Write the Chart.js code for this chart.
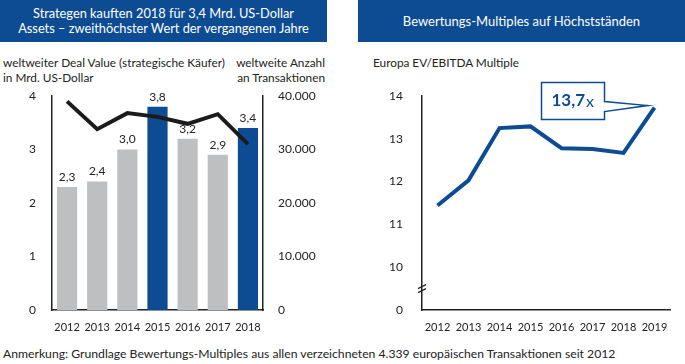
<!DOCTYPE html>
<html>
<head>
<meta charset="utf-8">
<script src="https://cdn.jsdelivr.net/npm/chart.js@4.4.1/dist/chart.umd.min.js"></script>
<style>
  body { margin: 0; background: #fff; font-family: 'Lato', 'Open Sans', sans-serif; color: #222; }
  #page { position: relative; width: 685px; height: 364px; overflow: hidden; }
  .head { position: absolute; top: 0; height: 42px; background: #0d4c93; color: #fff;
          font-size: 12.8px; line-height: 15px; text-align: center; display: flex;
          align-items: center; justify-content: center; }
  .txt { position: absolute; font-size: 11.8px; line-height: 15px; color: #222; white-space: nowrap; }
  .box { position: absolute; }
</style>
</head>
<body>
<div id="page">
  <div class="head" style="left:0;width:327px;">Strategen kauften 2018 für 3,4 Mrd. US-Dollar<br>Assets – zweithöchster Wert der vergangenen Jahre</div>
  <div class="head" style="left:358px;width:327px;font-size:13px;">Bewertungs-Multiples auf Höchstständen</div>

  <div class="txt" style="left:3px;top:55px;">weltweiter Deal Value (strategische Käufer)<br>in Mrd. US-Dollar</div>
  <div class="txt" style="right:360px;top:55px;text-align:right;">weltweite Anzahl<br>an Transaktionen</div>
  <div class="txt" style="left:373px;top:55px;">Europa EV/EBITDA Multiple</div>

  <div class="box" style="left:0;top:86px;width:340px;height:250px;"><canvas id="left"></canvas></div>
  <div class="box" style="left:345px;top:76px;width:340px;height:260px;"><canvas id="right"></canvas></div>

  <div class="txt" style="left:3px;top:346px;font-size:12.2px;">Anmerkung: Grundlage Bewertungs-Multiples aus allen verzeichneten 4.339 europäischen Transaktionen seit 2012</div>
</div>

<script>
// linke Grafik
var years = ['2012', '2013', '2014', '2015', '2016', '2017', '2018'];
var dealValue = [2.3, 2.4, 3.0, 3.8, 3.2, 2.9, 3.4];
var highlight = [false, false, false, true, false, false, true];
var deals = [39000, 33800, 36800, 36100, 34800, 36600, 31000];

// rechte Grafik
var multipleYears = ['2012', '2013', '2014', '2015', '2016', '2017', '2018', '2019'];
var multiples = [11.44, 12.03, 13.25, 13.29, 12.78, 12.76, 12.67, 13.73];
var calloutText = '13,7';

var BLUE = '#0d4c93';
var GREY = '#bebfc1';
var INK = '#222';
var tickFont = { family: 'Lato', size: 12 };
var yearFont = { family: 'Lato', size: 11 };

Chart.defaults.font.family = 'Lato';
Chart.defaults.color = INK;

// feste Achsenbreite, Abstand oben fest (sonst addiert Chart.js das Tick-Padding)
function fixWidth(w, top) {
  return function(scale) { scale.width = w; scale.paddingTop = top; scale.paddingBottom = 0; };
}
function fixHeight(h) { return function(scale) { scale.height = h; }; }

var barLabels = {
  id: 'barLabels',
  afterDatasetsDraw: function(chart) {
    var ctx = chart.ctx;
    var meta = chart.getDatasetMeta(0);
    ctx.save();
    ctx.font = '12px Lato';
    ctx.fillStyle = INK;
    ctx.textAlign = 'center';
    ctx.textBaseline = 'bottom';
    meta.data.forEach(function(bar, i) {
      ctx.fillText(dealValue[i].toFixed(1).replace('.', ','), bar.x, bar.y - 4);
    });
    ctx.restore();
  }
};

new Chart(document.getElementById('left'), {
  data: {
    labels: years,
    datasets: [{
      type: 'bar',
      data: dealValue,
      backgroundColor: highlight.map(function(h) { return h ? BLUE : GREY; }),
      barPercentage: 0.67,
      categoryPercentage: 1,
      yAxisID: 'y',
      order: 2
    }, {
      type: 'line',
      data: deals,
      borderColor: '#1b1b1b',
      borderWidth: 4,
      pointRadius: 0,
      tension: 0,
      yAxisID: 'y2',
      order: 1
    }]
  },
  options: {
    responsive: true,
    maintainAspectRatio: false,
    animation: false,
    layout: { padding: 0 },
    plugins: { legend: { display: false }, tooltip: { enabled: false } },
    scales: {
      x: {
        grid: { display: false },
        border: { color: INK, width: 1.5 },
        ticks: { font: yearFont, padding: 3, maxRotation: 0, autoSkip: false },
        afterFit: fixHeight(26)
      },
      y: {
        position: 'left', min: 0, max: 4,
        grid: { display: false },
        border: { color: INK, width: 1.5 },
        ticks: { stepSize: 1, font: tickFont, padding: 8 },
        afterFit: fixWidth(52, 10)
      },
      y2: {
        position: 'right', min: 0, max: 40000,
        grid: { display: false },
        border: { color: INK, width: 1.5 },
        ticks: {
          stepSize: 10000, font: tickFont, padding: 7,
          callback: function(v) { return v.toString().replace(/\B(?=(\d{3})+(?!\d))/g, '.'); }
        },
        afterFit: fixWidth(77, 10)
      }
    }
  },
  plugins: [barLabels]
});

var callout = {
  id: 'callout',
  afterDatasetsDraw: function(chart) {
    var ctx = chart.ctx;
    var meta = chart.getDatasetMeta(0);
    var last = meta.data[meta.data.length - 1];
    var px = last.x, py = last.y;
    var l = px - 113, r = px - 50, t = py - 25, b = py + 12;
    ctx.save();
    ctx.strokeStyle = BLUE;
    ctx.lineWidth = 1.5;
    ctx.fillStyle = '#fff';
    ctx.beginPath();
    ctx.moveTo(l, t);
    ctx.lineTo(r, t);
    ctx.lineTo(r, py - 6);
    ctx.lineTo(px - 7, py - 2);
    ctx.lineTo(r, py + 4);
    ctx.lineTo(r, b);
    ctx.lineTo(l, b);
    ctx.closePath();
    ctx.fill();
    ctx.stroke();
    ctx.fillStyle = BLUE;
    ctx.textBaseline = 'middle';
    ctx.textAlign = 'left';
    ctx.font = 'bold 17px Lato';
    ctx.fillText(calloutText, l + 10, py - 7);
    var w = ctx.measureText(calloutText).width;
    ctx.font = '16px Lato';
    ctx.fillText('x', l + 11 + w, py - 6);

    // Achsenbruch
    var ys = chart.scales.y;
    var ax = chart.chartArea.left;
    var yb = ys.getPixelForValue(9.5);
    ctx.strokeStyle = INK;
    ctx.lineWidth = 1.2;
    [-2, 2].forEach(function(d) {
      ctx.beginPath();
      ctx.moveTo(ax - 4, yb + d + 2);
      ctx.lineTo(ax + 4, yb + d - 2);
      ctx.stroke();
    });
    ctx.restore();
  }
};

new Chart(document.getElementById('right'), {
  type: 'line',
  data: {
    labels: multipleYears,
    datasets: [{
      data: multiples,
      borderColor: BLUE,
      borderWidth: 4,
      pointRadius: 0,
      tension: 0
    }]
  },
  options: {
    responsive: true,
    maintainAspectRatio: false,
    animation: false,
    layout: { padding: { top: 0, right: 15 } },
    plugins: { legend: { display: false }, tooltip: { enabled: false } },
    scales: {
      x: {
        offset: true,
        grid: { display: false },
        border: { color: INK, width: 1.5 },
        ticks: { font: yearFont, padding: 3, maxRotation: 0, autoSkip: false },
        afterFit: fixHeight(26)
      },
      y: {
        min: 9, max: 14,
        grid: { display: false },
        border: { color: INK, width: 1.5 },
        ticks: {
          stepSize: 1, font: tickFont, padding: 11,
          callback: function(v) { return v === 9 ? '0' : v; }
        },
        afterFit: fixWidth(77, 20)
      }
    }
  },
  plugins: [callout]
});
</script>
</body>
</html>
